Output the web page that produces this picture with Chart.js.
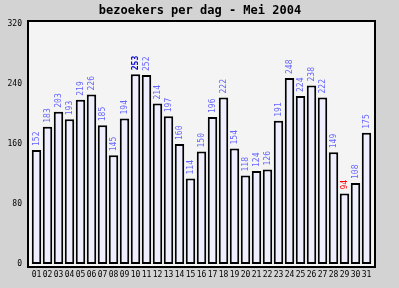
<!DOCTYPE html>
<html><head><meta charset="utf-8">
<script src="https://cdn.jsdelivr.net/npm/chart.js@4/dist/chart.umd.min.js"></script>
<style>html,body{margin:0;padding:0;background:#d3d3d3;}canvas{display:block;}</style>
</head><body>
<canvas id="c" width="399" height="288"></canvas>
<script>
const titleText = "bezoekers per dag - Mei 2004";
const days = ["01","02","03","04","05","06","07","08","09","10","11","12","13","14","15","16","17","18","19","20","21","22","23","24","25","26","27","28","29","30","31"];
const visitors = [152,183,203,193,219,226,185,145,194,253,252,214,197,160,114,150,196,222,154,118,124,126,191,248,224,238,222,149,94,108,175];
const yTicks = [0,80,160,240,320];

const MONO = "'DejaVu Sans Mono', 'Liberation Mono', monospace";
const maxV = Math.max(...visitors), minV = Math.min(...visitors);

const frame = {
  id: 'frame',
  beforeDraw(chart) {
    const ctx = chart.ctx, a = chart.chartArea;
    ctx.save();
    ctx.fillStyle = '#d3d3d3';
    ctx.fillRect(0, 0, chart.width, chart.height);
    ctx.fillStyle = '#f4f4f4';
    ctx.fillRect(a.left - 3, a.top - 3, a.right - a.left + 6, a.bottom - a.top + 6);
    ctx.strokeStyle = '#000';
    ctx.lineWidth = 2;
    ctx.strokeRect(a.left - 3, a.top - 3, a.right - a.left + 6, a.bottom - a.top + 6);
    ctx.fillStyle = '#000';
    ctx.font = "bold 12px " + MONO;
    ctx.textAlign = 'center';
    ctx.textBaseline = 'middle';
    ctx.fillText(titleText, 200, 11);
    ctx.restore();
  },
  afterDatasetsDraw(chart) {
    const ctx = chart.ctx;
    const meta = chart.getDatasetMeta(0);
    meta.data.forEach((bar, i) => {
      const v = visitors[i];
      ctx.save();
      ctx.translate(bar.x, bar.y - 4);
      ctx.rotate(-Math.PI / 2);
      ctx.textAlign = 'left';
      ctx.textBaseline = 'middle';
      if (v === maxV) { ctx.fillStyle = '#0000cc'; ctx.font = "bold 8px " + MONO; }
      else if (v === minV) { ctx.fillStyle = '#ff0000'; ctx.font = "8px " + MONO; }
      else { ctx.fillStyle = '#6666ff'; ctx.font = "8px " + MONO; }
      ctx.fillText(String(v), 0, 0);
      ctx.restore();
    });
  }
};

new Chart(document.getElementById('c'), {
  type: 'bar',
  data: {
    labels: days,
    datasets: [{
      data: visitors,
      backgroundColor: '#eeeeff',
      borderColor: '#000000',
      borderWidth: 2,
      borderSkipped: false,
      barPercentage: 0.86,
      categoryPercentage: 1.0
    }]
  },
  options: {
    responsive: false,
    animation: false,
    devicePixelRatio: 1,
    layout: { padding: { top: 24, right: 27, bottom: 0, left: 0 } },
    plugins: { legend: { display: false }, tooltip: { enabled: false }, title: { display: false } },
    scales: {
      x: {
        grid: { display: false, drawTicks: false },
        border: { display: false },
        ticks: { color: '#000', font: { family: MONO, size: 8 }, autoSkip: false, maxRotation: 0, minRotation: 0, padding: 6 },
        afterFit(s) { s.height = 24; }
      },
      y: {
        min: 0, max: 320,
        afterBuildTicks(s) { s.ticks = yTicks.map(v => ({ value: v })); },
        grid: { display: false, drawTicks: false },
        border: { display: false },
        ticks: { color: '#000', font: { family: MONO, size: 8 }, padding: 9 },
        afterFit(s) { s.width = 31; }
      }
    }
  },
  plugins: [frame]
});
</script>
</body></html>
